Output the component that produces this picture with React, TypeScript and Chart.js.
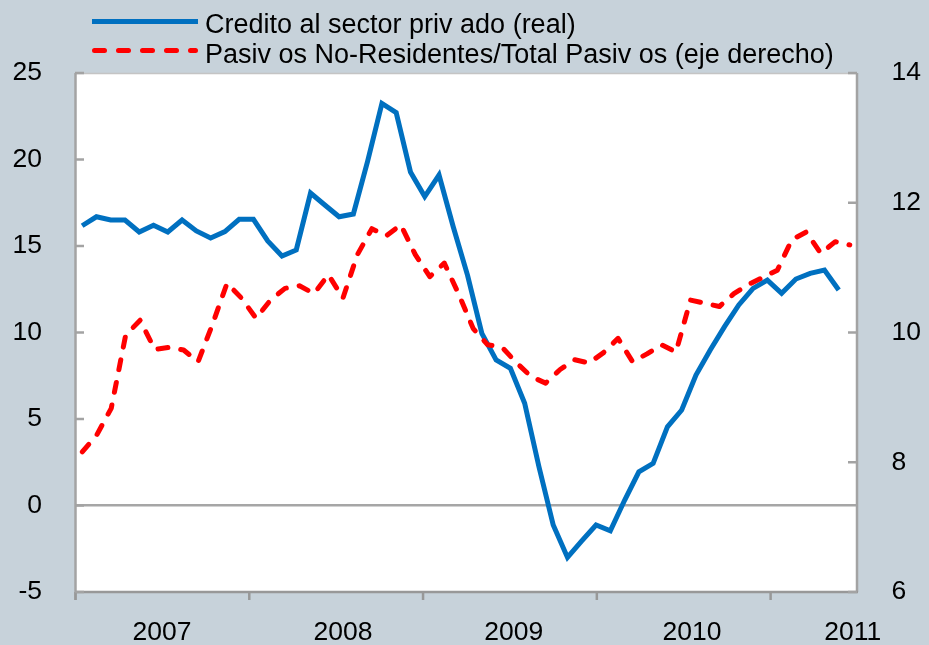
import React, { useEffect, useRef } from "react";
import { Chart, registerables } from "chart.js";

Chart.register(...registerables);

// ---------- data ----------
const yearLabels = ["2007", "2008", "2009", "2010", "2011"];
const monthNames = ["Ene", "Feb", "Mar", "Abr", "May", "Jun", "Jul", "Ago", "Sep", "Oct", "Nov", "Dic"];
const months: string[] = [];
for (const y of yearLabels) for (const m of monthNames) months.push(`${m}-${y}`);
const categories = months.slice(0, 54); // Ene-2007 .. Jun-2011

const legendBlue = "Credito al sector priv ado (real)";
const legendRed = "Pasiv os No-Residentes/Total Pasiv os (eje derecho)";

// Credito al sector privado (real), % (left axis)
const credito = [
  16.17, 16.69, 16.5, 16.5, 15.81, 16.2, 15.81, 16.5, 15.87, 15.46, 15.83, 16.54,
  16.54, 15.29, 14.42, 14.77, 18.06, 17.37, 16.69, 16.85, 19.91, 23.24, 22.71, 19.28,
  17.86, 19.1, 16.1, 13.3, 9.95, 8.41, 7.93, 5.91, 2.24, -1.13, -3.0, -2.05,
  -1.13, -1.46, 0.3, 1.95, 2.44, 4.55, 5.52, 7.54, 8.99, 10.34, 11.59, 12.55,
  13.03, 12.27, 13.09, 13.42, 13.61, 12.46,
];

// Pasivos No-Residentes / Total Pasivos, % (right axis)
const pasivos = [
  8.16, 8.42, 8.83, 9.96, 10.19, 9.74, 9.77, 9.73, 9.55, 10.13, 10.76, 10.53,
  10.22, 10.5, 10.68, 10.72, 10.6, 10.89, 10.53, 11.2, 11.6, 11.49, 11.66, 11.2,
  10.86, 11.07, 10.59, 10.06, 9.81, 9.77, 9.53, 9.32, 9.22, 9.43, 9.58, 9.53,
  9.69, 9.91, 9.55, 9.67, 9.81, 9.7, 10.5, 10.45, 10.4, 10.6, 10.74, 10.85,
  10.96, 11.43, 11.55, 11.22, 11.4, 11.35,
];

const leftTicks = [-5, 0, 5, 10, 15, 20, 25];
const rightTicks = [6, 8, 10, 12, 14];

// ---------- styling / layout ----------
const BG = "#C7D2DA";
const FONT = "'Liberation Sans', Arial, sans-serif";
const AXIS_GRAY = "#A3A3A3";
const yearTickMonths = [0, 12, 24, 36, 48];
const yearLabelMonths = [6, 18.5, 30.3, 42.6, 53.7];

const framePlugin = {
  id: "frame",
  beforeDraw(chart: any) {
    const { ctx, chartArea: a } = chart;
    ctx.save();
    ctx.fillStyle = BG;
    ctx.fillRect(0, 0, chart.width, chart.height);
    ctx.fillStyle = "#FFFFFF";
    ctx.fillRect(a.left, a.top, a.right - a.left, a.bottom - a.top);
    ctx.restore();
  },
  beforeDatasetsDraw(chart: any) {
    const { ctx, chartArea: a, scales } = chart;
    ctx.save();
    ctx.lineCap = "butt";
    // top border
    ctx.strokeStyle = "#C4C4C4";
    ctx.lineWidth = 1.5;
    ctx.beginPath();
    ctx.moveTo(a.left, a.top + 0.5);
    ctx.lineTo(a.right, a.top + 0.5);
    ctx.stroke();
    // right border
    ctx.strokeStyle = AXIS_GRAY;
    ctx.lineWidth = 2.5;
    ctx.beginPath();
    ctx.moveTo(a.right, a.top);
    ctx.lineTo(a.right, a.bottom);
    ctx.stroke();
    // left axis
    ctx.beginPath();
    ctx.moveTo(a.left + 0.5, a.top);
    ctx.lineTo(a.left + 0.5, a.bottom + 8);
    ctx.stroke();
    // bottom axis
    ctx.strokeStyle = "#989898";
    ctx.beginPath();
    ctx.moveTo(a.left, a.bottom);
    ctx.lineTo(a.right + 1, a.bottom);
    ctx.stroke();
    // x tick marks (year boundaries)
    for (const m of yearTickMonths) {
      const x = scales.x.getPixelForValue(m);
      ctx.beginPath();
      ctx.moveTo(x + 0.5, a.bottom);
      ctx.lineTo(x + 0.5, a.bottom + 8);
      ctx.stroke();
    }
    // inward y tick marks
    ctx.strokeStyle = AXIS_GRAY;
    for (const v of leftTicks) {
      const y = scales.y.getPixelForValue(v);
      ctx.beginPath();
      ctx.moveTo(a.left, y);
      ctx.lineTo(a.left + 9, y);
      ctx.stroke();
    }
    for (const v of rightTicks) {
      const y = scales.y1.getPixelForValue(v);
      ctx.beginPath();
      ctx.moveTo(a.right - 9, y);
      ctx.lineTo(a.right, y);
      ctx.stroke();
    }
    ctx.restore();
  },
};

const legendPlugin = {
  id: "customLegend",
  afterDraw(chart: any) {
    const { ctx } = chart;
    ctx.save();
    chart.data.datasets.forEach((ds: any, i: number) => {
      const lineY = 21.5 + i * 29;
      const baseY = 33 + i * 30;
      ctx.strokeStyle = ds.borderColor;
      ctx.lineWidth = ds.borderWidth;
      if (ds.borderDash && ds.borderDash.length) {
        ctx.setLineDash([10, 14]);
        ctx.lineCap = "round";
        ctx.beginPath();
        ctx.moveTo(94.5, lineY);
        ctx.lineTo(195.5, lineY);
        ctx.stroke();
      } else {
        ctx.setLineDash([]);
        ctx.lineCap = "butt";
        ctx.beginPath();
        ctx.moveTo(92, lineY);
        ctx.lineTo(198, lineY);
        ctx.stroke();
      }
      ctx.setLineDash([]);
      ctx.fillStyle = "#000000";
      ctx.font = `27px ${FONT}`;
      ctx.textAlign = "left";
      ctx.textBaseline = "alphabetic";
      ctx.fillText(ds.label, 205, baseY);
    });
    ctx.restore();
  },
};

export default function App() {
  const ref = useRef<HTMLCanvasElement>(null);

  useEffect(() => {
    document.body.style.margin = "0";
    document.body.style.background = BG;
    const canvas = ref.current!;
    const tickFont = { family: FONT, size: 26.5 };

    const chart = new Chart(canvas, {
      type: "line",
      data: {
        labels: categories,
        datasets: [
          {
            label: legendBlue,
            data: credito.map((v, i) => ({ x: i + 0.5, y: v })),
            xAxisID: "x2",
            yAxisID: "y",
            borderColor: "#0070C0",
            backgroundColor: "#0070C0",
            borderWidth: 5,
            pointRadius: 0,
            tension: 0,
            fill: false,
            order: 1,
          },
          {
            label: legendRed,
            data: pasivos.map((v, i) => ({ x: i + 0.5, y: v })),
            xAxisID: "x",
            yAxisID: "y1",
            borderColor: "#FF0000",
            backgroundColor: "#FF0000",
            borderWidth: 5,
            borderDash: [10, 13],
            borderCapStyle: "round",
            borderJoinStyle: "round",
            pointRadius: 0,
            tension: 0,
            fill: false,
            order: 0,
          },
        ],
      } as any,
      options: {
        animation: false,
        responsive: false,
        devicePixelRatio: 1,
        layout: { padding: { top: 73, left: 0, right: 0, bottom: 0 } },
        plugins: { legend: { display: false }, tooltip: { enabled: false } },
        scales: {
          x: {
            type: "linear",
            position: "bottom",
            min: 0,
            max: categories.length,
            afterBuildTicks: (scale: any) => {
              scale.ticks = yearLabelMonths.map((v) => ({ value: v }));
            },
            afterFit: (scale: any) => {
              scale.height = 53;
            },
            grid: { display: false, drawTicks: false },
            border: { display: false },
            ticks: {
              autoSkip: false,
              maxRotation: 0,
              padding: 24.6,
              color: "#000000",
              font: tickFont,
              callback: (_v: any, i: number) => yearLabels[i],
            },
          },
          x2: {
            type: "linear",
            display: false,
            min: 0,
            max: 54.78,
          },
          y: {
            type: "linear",
            position: "left",
            min: -5,
            max: 25,
            afterBuildTicks: (scale: any) => {
              scale.ticks = leftTicks.map((v) => ({ value: v }));
            },
            afterFit: (scale: any) => {
              scale.width = 75;
            },
            grid: {
              drawTicks: false,
              lineWidth: 2.5,
              color: (c: any) => (c.tick && c.tick.value === 0 ? "#A6A6A6" : "rgba(0,0,0,0)"),
            },
            border: { display: false },
            ticks: {
              padding: 33,
              color: "#000000",
              font: tickFont,
              callback: (v: any) => String(v),
            },
          },
          y1: {
            type: "linear",
            position: "right",
            min: 6,
            max: 14,
            afterBuildTicks: (scale: any) => {
              scale.ticks = rightTicks.map((v) => ({ value: v }));
            },
            afterFit: (scale: any) => {
              scale.width = 72;
            },
            grid: { display: false, drawTicks: false },
            border: { display: false },
            ticks: {
              padding: 34.5,
              color: "#000000",
              font: tickFont,
              callback: (v: any) => String(v),
            },
          },
        },
      } as any,
      plugins: [framePlugin, legendPlugin],
    });
    return () => chart.destroy();
  }, []);

  return (
    <canvas
      ref={ref}
      width={929}
      height={645}
      style={{ display: "block", width: "929px", height: "645px" }}
    />
  );
}
